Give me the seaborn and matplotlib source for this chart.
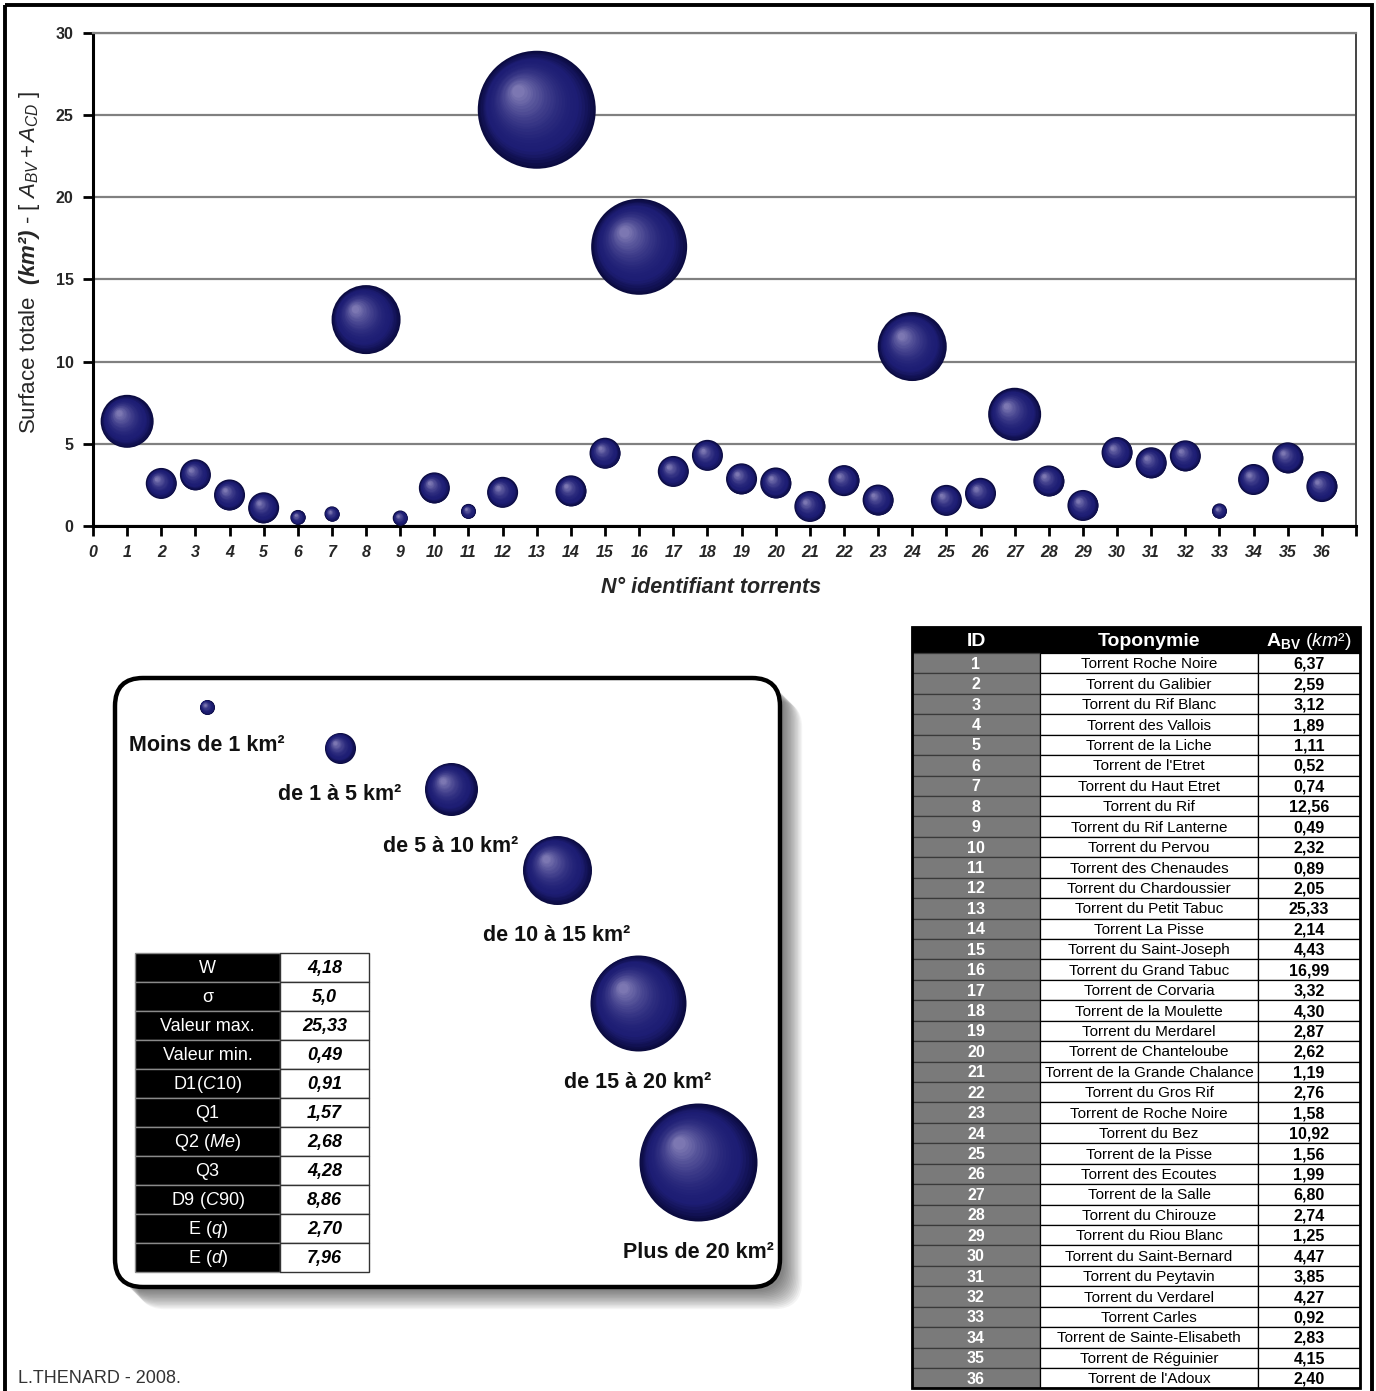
import numpy as np
import pandas as pd
import matplotlib
matplotlib.use("Agg")
import matplotlib.pyplot as plt
import matplotlib.transforms as mtransforms
from matplotlib.patches import Rectangle, FancyBboxPatch
from matplotlib.colors import to_rgb
import seaborn as sns

# ---------------- data ----------------
ids = list(range(1, 37))
toponymes = [
    "Torrent Roche Noire", "Torrent du Galibier", "Torrent du Rif Blanc", "Torrent des Vallois",
    "Torrent de la Liche", "Torrent de l'Etret", "Torrent du Haut Etret", "Torrent du Rif",
    "Torrent du Rif Lanterne", "Torrent du Pervou", "Torrent des Chenaudes", "Torrent du Chardoussier",
    "Torrent du Petit Tabuc", "Torrent La Pisse", "Torrent du Saint-Joseph", "Torrent du Grand Tabuc",
    "Torrent de Corvaria", "Torrent de la Moulette", "Torrent du Merdarel", "Torrent de Chanteloube",
    "Torrent de la Grande Chalance", "Torrent du Gros Rif", "Torrent de Roche Noire", "Torrent du Bez",
    "Torrent de la Pisse", "Torrent des Ecoutes", "Torrent de la Salle", "Torrent du Chirouze",
    "Torrent du Riou Blanc", "Torrent du Saint-Bernard", "Torrent du Peytavin", "Torrent du Verdarel",
    "Torrent Carles", "Torrent de Sainte-Elisabeth", "Torrent de Réguinier", "Torrent de l'Adoux",
]
a_bv = [6.37, 2.59, 3.12, 1.89, 1.11, 0.52, 0.74, 12.56, 0.49, 2.32, 0.89, 2.05,
        25.33, 2.14, 4.43, 16.99, 3.32, 4.30, 2.87, 2.62, 1.19, 2.76, 1.58, 10.92,
        1.56, 1.99, 6.80, 2.74, 1.25, 4.47, 3.85, 4.27, 0.92, 2.83, 4.15, 2.40]
class_labels = ["Moins de 1 km²", "de 1 à 5 km²", "de 5 à 10 km²",
                "de 10 à 15 km²", "de 15 à 20 km²", "Plus de 20 km²"]
class_bounds = [0, 1, 5, 10, 15, 20, np.inf]
stat_names = ["W", "σ", "Valeur max.", "Valeur min.", r"D1$\mathit{(C10)}$", "Q1",
              r"Q2 $\mathit{(Me)}$", "Q3", r"D9 $\mathit{(C90)}$", r"E $\mathit{(q)}$", r"E $\mathit{(d)}$"]
stat_values = ["4,18", "5,0", "25,33", "0,49", "0,91", "1,57", "2,68", "4,28", "8,86", "2,70", "7,96"]

df = pd.DataFrame({"id": ids, "nom": toponymes, "a_bv": a_bv})
df["classe"] = pd.cut(df["a_bv"], bins=class_bounds, labels=class_labels, right=False).astype(str)

# ---------------- style ----------------
sns.set_theme(style="ticks")
plt.rcParams["font.family"] = ["Liberation Sans", "DejaVu Sans"]
plt.rcParams["mathtext.fontset"] = "custom"
plt.rcParams["mathtext.rm"] = "Liberation Sans"
plt.rcParams["mathtext.it"] = "Liberation Sans:italic"
plt.rcParams["mathtext.bf"] = "Liberation Sans:bold"
if "mathtext.bfit" in plt.rcParams:
    plt.rcParams["mathtext.bfit"] = "Liberation Sans:italic:bold"

W, H, DPI = 1376, 1391, 100
fig = plt.figure(figsize=(W / DPI, H / DPI), dpi=DPI)

# marker diameters (in pixels) for each size class
diam_px = [15, 31, 53, 69, 96, 118]
diam_pt = {c: d * 72 / DPI for c, d in zip(class_labels, diam_px)}
size_map = {c: d ** 2 for c, d in diam_pt.items()}

EDGE = np.array(to_rgb("#0b0b40"))
BODY = np.array(to_rgb("#1d1d74"))
HI = np.array(to_rgb("#8580b8"))


def spheres(ax, x, y, d, z=3, n=26):
    """shaded spheres: shrinking, up-left shifted lighter discs"""
    for k in range(1, n):
        t = k / n
        f = 1 - 0.93 * t
        off = 0.33 * t * d / 2
        tr = ax.transData + mtransforms.ScaledTranslation(-off / 72, off / 72, fig.dpi_scale_trans)
        if t < 0.22:
            col = EDGE + (BODY - EDGE) * (t / 0.22)
        else:
            w = ((t - 0.22) / 0.78) ** 1.8
            col = BODY + (HI - BODY) * w
        ax.scatter(x, y, s=(d * f) ** 2, color=col, lw=0, transform=tr,
                   zorder=z + k * 0.001, clip_on=False)


# ---------------- background / decorations axis (pixel coords) ----------------
bg = fig.add_axes([0, 0, 1, 1], zorder=0)
bg.set_xlim(0, W)
bg.set_ylim(H, 0)
bg.axis("off")

bg.add_patch(Rectangle((5, 5), 1367, 1420, fill=False, ec="black", lw=2.8, clip_on=False))
bg.text(18, 1383, "L.THENARD - 2008.", fontsize=13, color="#333333", ha="left", va="baseline")

# ---------------- main chart ----------------
ax = fig.add_axes([93 / W, 1 - 526 / H, (1356 - 93) / W, (526 - 33) / H], zorder=2)
ax.patch.set_alpha(0)
sns.scatterplot(data=df, x="id", y="a_bv", size="classe", sizes=size_map,
                size_order=class_labels, color=EDGE, linewidth=0, legend=False,
                ax=ax, zorder=3, clip_on=False)
for c in class_labels:
    sub = df[df["classe"] == c]
    if len(sub):
        spheres(ax, sub["id"], sub["a_bv"], diam_pt[c])

ax.set_xlim(0, 37)
ax.set_ylim(0, 30)
ax.set_xticks(range(0, 38))
ax.set_xticklabels([str(i) for i in range(0, 37)] + [""], fontsize=11.5,
                   fontweight="bold", fontstyle="italic")
ax.set_yticks(range(0, 31, 5))
ax.set_yticklabels([str(v) for v in range(0, 31, 5)], fontsize=11.5, fontweight="bold")
ax.tick_params(axis="both", direction="out", length=7, width=2, color="black", pad=7)
ax.yaxis.grid(True, color="#808080", lw=1.6, zorder=1)
ax.set_axisbelow(True)
for s in ["left", "bottom"]:
    ax.spines[s].set_color("black")
    ax.spines[s].set_linewidth(2.2)
ax.spines["top"].set_color("#808080")
ax.spines["top"].set_linewidth(1.6)
ax.spines["right"].set_color("#444444")
ax.spines["right"].set_linewidth(1.4)

ax.set_xlabel("N° identifiant torrents", fontsize=15.5, fontweight="bold", fontstyle="italic")
ax.xaxis.set_label_coords(0.489, -0.103)
ax.set_ylabel(r"Surface totale  $\mathbfit{(km²)}$ - $[\ A_{BV} + A_{CD}\ ]$", fontsize=16)
ax.yaxis.set_label_coords(-0.040, 0.535)

# ---------------- legend box ----------------
bx0, by0, bx1, by1 = 115, 678, 780, 1287
for i in range(14):
    o = 4 + i * 1.4
    bg.add_patch(FancyBboxPatch((bx0 + o, by0 + o), bx1 - bx0, by1 - by0,
                                boxstyle="round,pad=0,rounding_size=28",
                                fc="#000000", ec="none", alpha=0.045, zorder=1))
bg.add_patch(FancyBboxPatch((bx0, by0), bx1 - bx0, by1 - by0,
                            boxstyle="round,pad=0,rounding_size=28",
                            fc="white", ec="black", lw=3.2, zorder=2))

leg_cx = [207, 340, 451, 557, 638, 698]
leg_cy = [707, 748, 789, 870, 1003, 1162]
for c, cx, cy, dpx in zip(class_labels, leg_cx, leg_cy, diam_px):
    bg.scatter([cx], [cy], s=size_map[c], color=EDGE, lw=0, zorder=3)
    spheres(bg, [cx], [cy], diam_pt[c], z=3)
    bg.text(cx, cy + dpx / 2 + 31, c, fontsize=15.5, fontweight="bold",
            ha="center", va="center", color="#111111", zorder=5)

# stats table
sx0, sx1, sx2 = 135, 280, 369
sy0, srow = 953, 29
for i, (nm, val) in enumerate(zip(stat_names, stat_values)):
    y0 = sy0 + i * srow
    bg.add_patch(Rectangle((sx0, y0), sx1 - sx0, srow, fc="black", ec="#8a8a8a", lw=1.0, zorder=4))
    bg.add_patch(Rectangle((sx1, y0), sx2 - sx1, srow, fc="white", ec="#333333", lw=1.0, zorder=4))
    bg.text((sx0 + sx1) / 2, y0 + srow / 2 + 1, nm, color="white", fontsize=13,
            ha="center", va="center", zorder=5)
    bg.text((sx1 + sx2) / 2, y0 + srow / 2 + 1, val, color="black", fontsize=13,
            fontweight="bold", fontstyle="italic", ha="center", va="center", zorder=5)

# ---------------- right table ----------------
tx = [912, 1040, 1258, 1360]
ty0, thead, trow = 627, 26, 20.43
bg.add_patch(Rectangle((tx[0], ty0), tx[3] - tx[0], thead, fc="black", ec="black", lw=1, zorder=4))
hy = ty0 + thead / 2 + 1
bg.text((tx[0] + tx[1]) / 2, hy, "ID", color="white", fontsize=14, fontweight="bold",
        ha="center", va="center", zorder=5)
bg.text((tx[1] + tx[2]) / 2, hy, "Toponymie", color="white", fontsize=14, fontweight="bold",
        ha="center", va="center", zorder=5)
bg.text((tx[2] + tx[3]) / 2, hy, r"$\mathbf{A}_{\mathbf{BV}}$ $\mathit{(km²)}$", color="white",
        fontsize=14, ha="center", va="center", zorder=5)
for i, row in df.iterrows():
    y0 = ty0 + thead + i * trow
    bg.add_patch(Rectangle((tx[0], y0), tx[1] - tx[0], trow, fc="#7a7a7a", ec="#3a3a3a", lw=0.9, zorder=4))
    bg.add_patch(Rectangle((tx[1], y0), tx[2] - tx[1], trow, fc="white", ec="black", lw=0.9, zorder=4))
    bg.add_patch(Rectangle((tx[2], y0), tx[3] - tx[2], trow, fc="white", ec="black", lw=0.9, zorder=4))
    yc = y0 + trow / 2 + 1
    bg.text((tx[0] + tx[1]) / 2, yc, str(row["id"]), color="white", fontsize=11.5,
            fontweight="bold", ha="center", va="center", zorder=5)
    bg.text((tx[1] + tx[2]) / 2, yc, row["nom"], color="black", fontsize=11,
            ha="center", va="center", zorder=5)
    bg.text((tx[2] + tx[3]) / 2, yc, f"{row['a_bv']:.2f}".replace(".", ","), color="black",
            fontsize=11.5, fontweight="bold", ha="center", va="center", zorder=5)
bg.add_patch(Rectangle((tx[0], ty0), tx[3] - tx[0], thead + 36 * trow, fill=False,
                       ec="black", lw=2, zorder=6))

fig.savefig("out.png", dpi=DPI)
